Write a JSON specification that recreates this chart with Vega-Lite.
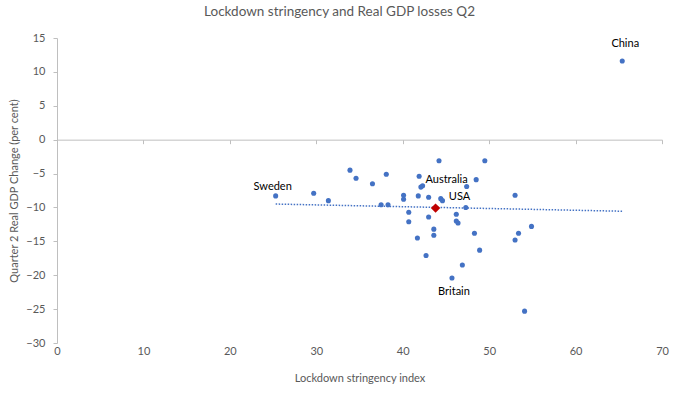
{
  "$schema": "https://vega.github.io/schema/vega-lite/v6.json",
  "autosize": "none",
  "width": 605,
  "height": 305,
  "padding": {"left": 57, "top": 38, "right": 18, "bottom": 54},
  "background": "white",
  "config": {
    "view": {"stroke": null},
    "font": "Lato",
    "axis": {"labelFont": "Lato", "titleFont": "Lato", "labelColor": "#595959", "titleColor": "#595959", "labelFontSize": 11, "titleFontSize": 11, "titleFontWeight": "normal", "grid": false, "domainColor": "#BFBFBF", "tickColor": "#BFBFBF", "labelOverlap": false, "labelFlush": false}
  },
  "title": {"text": "Lockdown stringency and Real GDP losses Q2", "font": "Lato", "fontSize": 13.5, "fontWeight": "normal", "color": "#595959", "anchor": "middle", "dx": -20, "offset": 14},
  "datasets": {
    "pts": [
      {"country": "Sweden", "stringency": 25.3, "gdp": -8.3},
      {"country": "", "stringency": 29.7, "gdp": -7.9},
      {"country": "", "stringency": 31.4, "gdp": -9.0},
      {"country": "", "stringency": 33.9, "gdp": -4.5},
      {"country": "", "stringency": 34.6, "gdp": -5.7},
      {"country": "", "stringency": 36.5, "gdp": -6.5},
      {"country": "", "stringency": 38.1, "gdp": -5.1},
      {"country": "", "stringency": 37.5, "gdp": -9.6},
      {"country": "", "stringency": 38.3, "gdp": -9.6},
      {"country": "", "stringency": 44.2, "gdp": -3.1},
      {"country": "", "stringency": 49.5, "gdp": -3.1},
      {"country": "", "stringency": 41.9, "gdp": -5.4},
      {"country": "", "stringency": 42.1, "gdp": -7.0},
      {"country": "Australia", "stringency": 42.3, "gdp": -6.8},
      {"country": "", "stringency": 48.5, "gdp": -5.9},
      {"country": "", "stringency": 47.4, "gdp": -6.9},
      {"country": "", "stringency": 40.1, "gdp": -8.2},
      {"country": "", "stringency": 40.1, "gdp": -8.8},
      {"country": "", "stringency": 41.8, "gdp": -8.3},
      {"country": "", "stringency": 43.0, "gdp": -8.5},
      {"country": "", "stringency": 44.4, "gdp": -8.7},
      {"country": "", "stringency": 44.6, "gdp": -9.0},
      {"country": "", "stringency": 53.0, "gdp": -8.2},
      {"country": "USA", "stringency": 43.8, "gdp": -10.1},
      {"country": "", "stringency": 47.3, "gdp": -10.0},
      {"country": "", "stringency": 40.7, "gdp": -10.7},
      {"country": "", "stringency": 40.7, "gdp": -12.1},
      {"country": "", "stringency": 43.0, "gdp": -11.4},
      {"country": "", "stringency": 46.2, "gdp": -11.0},
      {"country": "", "stringency": 46.2, "gdp": -12.0},
      {"country": "", "stringency": 46.4, "gdp": -12.3},
      {"country": "", "stringency": 43.6, "gdp": -13.2},
      {"country": "", "stringency": 43.6, "gdp": -14.1},
      {"country": "", "stringency": 41.7, "gdp": -14.5},
      {"country": "", "stringency": 48.3, "gdp": -13.8},
      {"country": "", "stringency": 53.4, "gdp": -13.8},
      {"country": "", "stringency": 53.0, "gdp": -14.8},
      {"country": "", "stringency": 54.9, "gdp": -12.8},
      {"country": "", "stringency": 48.9, "gdp": -16.3},
      {"country": "", "stringency": 42.7, "gdp": -17.1},
      {"country": "", "stringency": 46.9, "gdp": -18.5},
      {"country": "Britain", "stringency": 45.7, "gdp": -20.4},
      {"country": "", "stringency": 54.1, "gdp": -25.3},
      {"country": "China", "stringency": 65.4, "gdp": 11.6}
    ],
    "trend": [
      {"stringency": 25.3, "gdp": -9.5},
      {"stringency": 65.4, "gdp": -10.56}
    ]
  },
  "encoding": {
    "x": {"field": "stringency", "type": "quantitative", "scale": {"domain": [0, 70], "nice": false, "zero": false},
      "axis": {"orient": "bottom", "title": "Lockdown stringency index", "values": [0, 10, 20, 30, 40, 50, 60, 70], "offset": -203.33, "tickSize": 4, "labelPadding": 202, "titlePadding": 33}},
    "y": {"field": "gdp", "type": "quantitative", "scale": {"domain": [-30, 15], "nice": false, "zero": false},
      "axis": {"title": "Quarter 2 Real GDP Change (per cent)", "values": [-30, -25, -20, -15, -10, -5, 0, 5, 10, 15], "tickSize": 4, "labelPadding": 8, "titlePadding": 6}}
  },
  "layer": [
    {
      "data": {"name": "trend"},
      "mark": {"type": "line", "color": "#4472C4", "strokeWidth": 1.5, "strokeDash": [1.5, 1.5]}
    },
    {
      "data": {"name": "pts"},
      "transform": [{"filter": "datum.country !== 'USA'"}],
      "mark": {"type": "circle", "color": "#4472C4", "opacity": 1, "size": 26}
    },
    {
      "data": {"name": "pts"},
      "transform": [{"filter": "datum.country === 'USA'"}],
      "mark": {"type": "point", "shape": "diamond", "filled": true, "color": "#C00000", "opacity": 1, "size": 90}
    },
    {
      "data": {"name": "pts"},
      "transform": [{"filter": "datum.country === 'Sweden'"}],
      "mark": {"type": "text", "font": "Lato", "fontSize": 11, "color": "#000000", "dx": -3, "dy": -9},
      "encoding": {"text": {"field": "country"}}
    },
    {
      "data": {"name": "pts"},
      "transform": [{"filter": "datum.country === 'China'"}],
      "mark": {"type": "text", "font": "Lato", "fontSize": 11, "color": "#000000", "dx": 3, "dy": -17},
      "encoding": {"text": {"field": "country"}}
    },
    {
      "data": {"name": "pts"},
      "transform": [{"filter": "datum.country === 'Australia'"}],
      "mark": {"type": "text", "font": "Lato", "fontSize": 11, "color": "#000000", "dx": 24, "dy": -6},
      "encoding": {"text": {"field": "country"}}
    },
    {
      "data": {"name": "pts"},
      "transform": [{"filter": "datum.country === 'USA'"}],
      "mark": {"type": "text", "font": "Lato", "fontSize": 11, "color": "#000000", "dx": 24, "dy": -11},
      "encoding": {"text": {"field": "country"}}
    },
    {
      "data": {"name": "pts"},
      "transform": [{"filter": "datum.country === 'Britain'"}],
      "mark": {"type": "text", "font": "Lato", "fontSize": 11, "color": "#000000", "dx": 2, "dy": 14},
      "encoding": {"text": {"field": "country"}}
    }
  ]
}
